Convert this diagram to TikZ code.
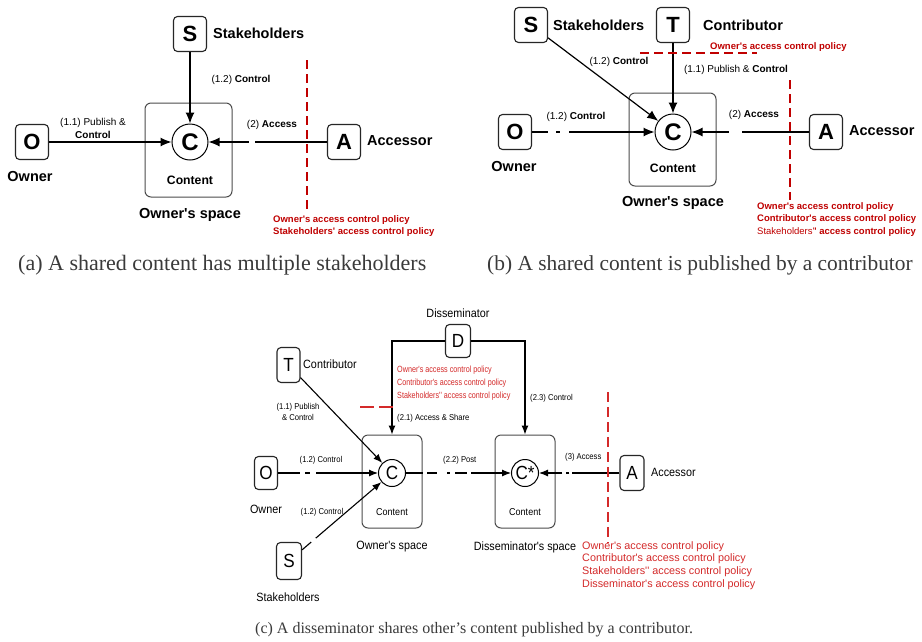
\documentclass[tikz,border=0pt]{standalone}
\usepackage{fontspec}
\setmainfont{Liberation Serif}
\newfontfamily\af{Liberation Sans}
\newfontfamily\cf[FakeStretch=0.9]{Liberation Sans}
\newfontfamily\cff[FakeStretch=0.8]{Liberation Sans}
\usetikzlibrary{arrows.meta}
\definecolor{pred}{HTML}{C00000}
\definecolor{cred}{HTML}{D42A2A}
\definecolor{capgray}{HTML}{3A3A3A}
\tikzset{
  lbox/.style={draw=black!85, rounded corners=4pt, line width=1.1pt, inner sep=0pt, fill=white},
  abox/.style={lbox, minimum width=33pt, minimum height=35pt, font=\af\bfseries\fontsize{22}{22}\selectfont},
  cbox/.style={lbox, minimum width=24pt, minimum height=34pt, font=\cf\fontsize{19}{19}\selectfont},
  spacebox/.style={draw=black!70, rounded corners=6pt, line width=1pt, inner sep=0pt},
  acirc/.style={circle, draw, line width=1pt, minimum size=36pt, inner sep=0pt, fill=white, font=\af\bfseries\fontsize{24}{24}\selectfont},
  ccirc/.style={circle, draw, line width=1pt, minimum size=27pt, inner sep=0pt, fill=white, font=\cf\fontsize{19}{19}\selectfont},
  conn/.style={line width=1.2pt, -{Latex[length=11pt,width=9pt]}},
  cconn/.style={line width=1.1pt, -{Latex[length=9pt,width=7pt]}},
  biglab/.style={font=\af\bfseries\fontsize{14.5}{16}\selectfont, inner sep=0pt},
  midlab/.style={font=\af\bfseries\fontsize{12.2}{14}\selectfont, inner sep=0pt},
  smalllab/.style={font=\af\fontsize{10}{13}\selectfont, inner sep=0pt},
  redtxt/.style={font=\af\bfseries\fontsize{9.5}{12.5}\selectfont, text=pred, inner sep=0pt, align=left},
  redline/.style={draw=pred, line width=1.3pt, dash pattern=on 9pt off 5pt},
  cbig/.style={font=\cf\fontsize{12}{14}\selectfont, inner sep=0pt},
  cmid/.style={font=\cf\fontsize{10}{12}\selectfont, inner sep=0pt},
  csmall/.style={font=\cf\fontsize{8.5}{11}\selectfont, inner sep=0pt, align=center},
  credtop/.style={font=\cff\fontsize{9}{13}\selectfont, text=cred, inner sep=0pt, align=left},
  credbot/.style={font=\af\fontsize{10.8}{12.7}\selectfont, text=cred, inner sep=0pt, align=left},
  credline/.style={draw=cred, line width=1.3pt, dash pattern=on 10pt off 5pt},
  captxt/.style={text=capgray, inner sep=0pt, anchor=west}
}
\begin{document}
\begin{tikzpicture}[x=1pt,y=-1pt]
\useasboundingbox (0,0) rectangle (922,641);
\fill[white] (0,0) rectangle (922,641);

% ================= (a) =================
\node[spacebox, minimum width=87pt, minimum height=94pt] (aB) at (188.5,150) {};
\node[abox] (aS) at (190,34) {S};
\node[abox] (aO) at (32,142) {O};
\node[abox] (aA) at (344,142) {A};
\node[acirc] (aC) at (190,142) {C};
\node[biglab, anchor=west] (aSl) at (213,33) {Stakeholders};
\node[biglab] (aOl) at (30,177) {Owner};
\node[biglab, anchor=west] (aAl) at (367,141) {Accessor};
\node[midlab] (aCt) at (190,180) {Content};
\node[biglab] (aSp) at (190,215) {Owner's space};
\draw[conn] (aS) -- (aC);
\draw[conn] (aO) -- (aC);
\draw[conn, dash pattern=on 72pt off 6pt on 200pt] (aA) -- (aC);
\node[smalllab, align=center] (aL1) at (93,128) {(1.1) Publish \&\\\textbf{Control}};
\node[smalllab] (aL2) at (241,80) {(1.2) \textbf{Control}};
\node[smalllab] (aL3) at (272,125) {(2) \textbf{Access}};
\coordinate (aR1) at (307,60);
\coordinate (aR2) at (307,213);
\draw[redline] (aR1) -- (aR2);
\node[redtxt, anchor=north west] (aRt) at (273,215) {Owner's access control policy\\Stakeholders' access control policy};

% ================= (b) =================
\node[spacebox, minimum width=87pt, minimum height=93pt] (bB) at (672.5,139.5) {};
\node[abox] (bS) at (531,25) {S};
\node[abox] (bT) at (673,25) {T};
\node[abox] (bO) at (515,132) {O};
\node[abox] (bA) at (826,132) {A};
\node[acirc] (bC) at (673,132) {C};
\node[biglab, anchor=west] (bSl) at (553,25) {Stakeholders};
\node[biglab, anchor=west] (bTl) at (703,25) {Contributor};
\node[biglab] (bOl) at (514,167) {Owner};
\node[biglab, anchor=west] (bAl) at (849,131) {Accessor};
\node[midlab] (bCt) at (673,168) {Content};
\node[biglab] (bSp) at (673,203) {Owner's space};
\draw[conn] (bS) -- (bC);
\draw[conn] (bT) -- (bC);
\draw[conn, dash pattern=on 16pt off 8pt on 4pt off 9pt on 200pt] (bO) -- (bC);
\draw[conn, dash pattern=on 67pt off 13pt on 200pt] (bA) -- (bC);
\node[smalllab] (bL1) at (619,62) {(1.2) \textbf{Control}};
\node[smalllab] (bL2) at (736,70) {(1.1) Publish \& \textbf{Control}};
\node[smalllab] (bL3) at (576,117) {(1.2) \textbf{Control}};
\node[smalllab] (bL4) at (754,115) {(2) \textbf{Access}};
\coordinate (bR1) at (640,53);
\coordinate (bR2) at (757,53);
\draw[redline] (bR1) -- (bR2);
\node[redtxt, anchor=west] (bRh) at (710,47) {Owner's access control policy};
\coordinate (bR3) at (790,80);
\coordinate (bR4) at (790,200);
\draw[redline] (bR3) -- (bR4);
\node[redtxt, anchor=north west] (bRt) at (757,202) {Owner's access control policy\\Contributor's access control policy\\{\mdseries Stakeholders'}' access control policy};

% ================= (c) =================
\node[spacebox, minimum width=60pt, minimum height=93pt] (cB1) at (392,481.5) {};
\node[spacebox, minimum width=60pt, minimum height=93pt] (cB2) at (525,481.5) {};
\node[cbox, minimum width=25pt, minimum height=33pt] (cD) at (458,341) {D};
\node[cbox, minimum width=23pt, minimum height=35pt] (cT) at (288.5,365) {T};
\node[cbox, minimum width=23pt, minimum height=33pt] (cO) at (266,473) {O};
\node[cbox, minimum width=25pt, minimum height=37pt] (cS) at (289,561) {S};
\node[cbox, minimum width=24pt, minimum height=35pt] (cA) at (632,473) {A};
\node[ccirc] (cC) at (392,473) {C};
\node[ccirc] (cC2) at (525,473) {C*};
\node[cbig] (cDl) at (458,313) {Disseminator};
\node[cbig, anchor=west] (cTl) at (303,364) {Contributor};
\node[cbig] (cOl) at (266,509) {Owner};
\node[cbig] (cSl) at (288,597) {Stakeholders};
\node[cbig, anchor=west] (cAl) at (651,472) {Accessor};
\node[cmid] (cCt1) at (392,512) {Content};
\node[cmid] (cCt2) at (525,512) {Content};
\node[cbig] (cSp1) at (392,547) {Owner's space};
\node[cbig] (cSp2) at (525,547) {Disseminator's space};
\draw[cconn] (cD.west) -| (cB1.north);
\draw[cconn] (cD.east) -| (cB2.north);
\draw[cconn] (cT) -- (cC);
\draw[cconn, dash pattern=on 22pt off 5pt on 5pt off 6pt on 200pt] (cO) -- (cC);
\draw[cconn, dash pattern=on 12pt off 6pt on 200pt] (cS) -- (cC);
\draw[cconn, dash pattern=on 17pt off 4pt on 10pt off 10pt on 3pt off 5pt on 12pt off 4pt on 200pt] (cC) -- (cC2);
\draw[cconn, dash pattern=on 47pt off 3pt on 3pt off 4pt on 200pt] (cA) -- (cC2);
\node[csmall] (cL1) at (298,412) {(1.1) Publish\\\& Control};
\node[csmall] (cL2) at (321,460) {(1.2) Control};
\node[csmall] (cL3) at (322,512) {(1.2) Control};
\node[csmall, anchor=west] (cL4) at (397,418) {(2.1) Access \& Share};
\node[csmall, anchor=west] (cL5) at (530,398) {(2.3) Control};
\node[csmall, anchor=west] (cL6) at (443,460) {(2.2) Post};
\node[csmall, anchor=west] (cL7) at (565,457) {(3) Access};
\node[credtop, anchor=north west] (cRt) at (397,366) {Owner's access control policy\\Contributor's access control policy\\Stakeholders'' access control policy};
\coordinate (cR1) at (360,407);
\coordinate (cR2) at (395,407);
\draw[credline, dash pattern=on 14pt off 5pt] (cR1) -- (cR2);
\coordinate (cR3) at (608,392);
\coordinate (cR4) at (608,543);
\draw[credline] (cR3) -- (cR4);
\node[credbot, anchor=north west] (cRb) at (582,541) {Owner's access control policy\\Contributor's access control policy\\Stakeholders'' access control policy\\Disseminator's access control policy};

% ================= captions =================
\node[captxt, font=\fontsize{22}{24}\selectfont] (capA) at (18,265) {(a) A shared content has multiple stakeholders};
\node[captxt, font=\fontsize{21.4}{24}\selectfont] (capB) at (487,265) {(b) A shared content is published by a contributor};
\node[captxt, font=\fontsize{16}{18}\selectfont] (capC) at (255,630) {(c) A disseminator shares other's content published by a contributor.};
\end{tikzpicture}
\end{document}
